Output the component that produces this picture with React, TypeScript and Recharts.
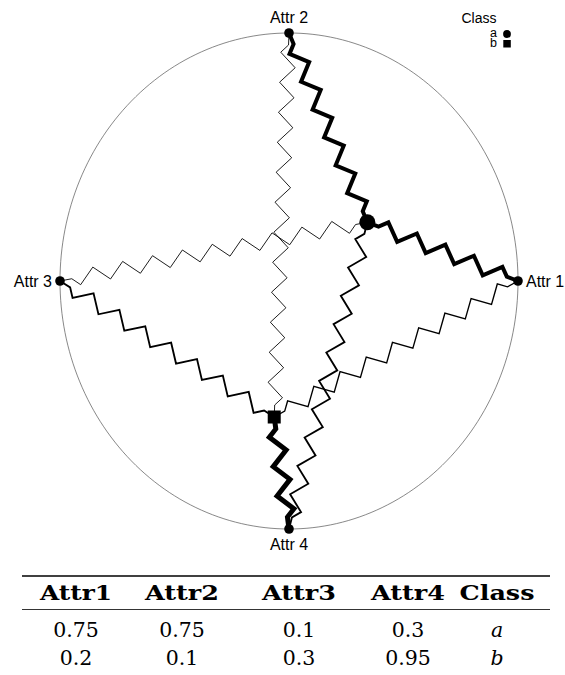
import React from 'react';
import { ScatterChart, Scatter, XAxis, YAxis } from 'recharts';

// ---------- data ----------
const attributes = ['Attr 1', 'Attr 2', 'Attr 3', 'Attr 4'];
const anchorAnglesDeg = [0, 90, 180, 270];
const labelSides = ['right', 'top', 'left', 'bottom'];
const tableHeaders = ['Attr1', 'Attr2', 'Attr3', 'Attr4', 'Class'];
const classLabels = ['a', 'b'];
const classAValues = [0.75, 0.75, 0.1, 0.3];
const classBValues = [0.2, 0.1, 0.3, 0.95];

// ---------- layout ----------
const CHART_W = 565;
const CHART_H = 560;
const MARGIN = { top: 33, right: 47, bottom: 31, left: 60 };
const SX = (CHART_W - MARGIN.left - MARGIN.right) / 2;
const SY = (CHART_H - MARGIN.top - MARGIN.bottom) / 2;
const SPRING_STEP = 15;
const SPRING_AMP = 7.5;
const SPRING_LEAD = 12;
const SANS = 'Liberation Sans, Arial, sans-serif';
const SERIF = 'DejaVu Serif, serif';

const r6 = (v: number) => Math.round(v * 1e6) / 1e6;
const clamp1 = (v: number) => Math.max(-1, Math.min(1, v));

const anchors = attributes.map((name, i) => {
  const a = (anchorAnglesDeg[i] * Math.PI) / 180;
  return { name, side: labelSides[i], x: r6(Math.cos(a)), y: r6(Math.sin(a)) };
});

const radviz = (vals: number[]) => {
  const s = vals.reduce((p, c) => p + c, 0);
  return {
    x: vals.reduce((p, v, i) => p + v * anchors[i].x, 0) / s,
    y: vals.reduce((p, v, i) => p + v * anchors[i].y, 0) / s,
  };
};

const pointA = radviz(classAValues);
const pointB = radviz(classBValues);

// ellipse (unit circle in data space)
const circleData = Array.from({ length: 241 }, (_, i) => {
  const t = (i / 240) * 2 * Math.PI;
  return { x: clamp1(Math.cos(t)), y: clamp1(Math.sin(t)) };
});

// zigzag spring between an anchor and a point (offsets in screen pixels)
const springPoints = (from: { x: number; y: number }, to: { x: number; y: number }) => {
  const ax = from.x * SX, ay = -from.y * SY;
  const px = to.x * SX, py = -to.y * SY;
  const dx = px - ax, dy = py - ay;
  const L = Math.hypot(dx, dy);
  const ux = dx / L, uy = dy / L;
  const nx = -uy, ny = ux;
  const inner = L - 2 * SPRING_LEAD;
  const n = Math.max(2, Math.round(inner / SPRING_STEP));
  const s = inner / n;
  const pts: [number, number][] = [[ax, ay], [ax + ux * SPRING_LEAD, ay + uy * SPRING_LEAD]];
  for (let i = 0; i < n; i++) {
    const t = SPRING_LEAD + (i + 0.5) * s;
    const sg = i % 2 === 0 ? 1 : -1;
    pts.push([ax + ux * t + nx * SPRING_AMP * sg, ay + uy * t + ny * SPRING_AMP * sg]);
  }
  pts.push([px - ux * SPRING_LEAD, py - uy * SPRING_LEAD], [px, py]);
  return pts.map(([X, Y]) => ({ x: clamp1(X / SX), y: clamp1(-Y / SY) }));
};

const widthFor = (v: number) => 0.4 + 4.8 * v;

const springs = [
  ...classAValues.map((v, i) => ({ key: `a${i}`, w: widthFor(v), data: springPoints(anchors[i], pointA) })),
  ...classBValues.map((v, i) => ({ key: `b${i}`, w: widthFor(v), data: springPoints(anchors[i], pointB) })),
];

const Empty = () => <g />;

const AnchorShape = (props: any) => {
  const { cx, cy, payload } = props;
  let tx = cx, ty = cy + 5.7, ta: any = 'middle';
  if (payload.side === 'right') { tx = cx + 8; ta = 'start'; }
  if (payload.side === 'left') { tx = cx - 8; ta = 'end'; }
  if (payload.side === 'top') { ty = cy - 10; }
  if (payload.side === 'bottom') { ty = cy + 21; }
  return (
    <g>
      <circle cx={cx} cy={cy} r={4.8} fill="#000" />
      <text x={tx} y={ty} textAnchor={ta} fontFamily={SANS} fontSize={16} fill="#000">{payload.name}</text>
    </g>
  );
};

const CircleShape = (props: any) => <circle cx={props.cx} cy={props.cy} r={8} fill="#000" />;
const SquareShape = (props: any) => <rect x={props.cx - 6.5} y={props.cy - 6.5} width={13} height={13} fill="#000" />;

const tableRows = [
  [...classAValues.map(String), classLabels[0]],
  [...classBValues.map(String), classLabels[1]],
];
const colCenters = [76, 182, 299, 408, 497];
const headerWidths = [72, 74, 74, 74, 75];

export default function App() {
  return (
    <div style={{ position: 'absolute', left: 0, top: 0, width: 565, height: 675, background: '#fff' }}>
      <ScatterChart width={CHART_W} height={CHART_H} margin={MARGIN}>
        <XAxis type="number" dataKey="x" domain={[-1, 1]} hide />
        <YAxis type="number" dataKey="y" domain={[-1, 1]} hide />
        <Scatter data={circleData} line={{ stroke: '#555', strokeWidth: 0.7 }} shape={Empty} isAnimationActive={false} />
        {springs.map((s) => (
          <Scatter
            key={s.key}
            data={s.data}
            line={{ stroke: '#000', strokeWidth: s.w, strokeLinejoin: 'miter' }}
            shape={Empty}
            isAnimationActive={false}
          />
        ))}
        <Scatter data={anchors} shape={AnchorShape} isAnimationActive={false} />
        <Scatter data={[pointA]} shape={CircleShape} isAnimationActive={false} />
        <Scatter data={[pointB]} shape={SquareShape} isAnimationActive={false} />
      </ScatterChart>
      <svg width={565} height={675} style={{ position: 'absolute', left: 0, top: 0, pointerEvents: 'none' }}>
        {/* legend */}
        <text x={479} y={22.7} textAnchor="middle" fontFamily={SANS} fontSize={14} fill="#000">Class</text>
        <text x={497} y={36.8} textAnchor="end" fontFamily={SANS} fontSize={12.5} fill="#000">{classLabels[0]}</text>
        <circle cx={507} cy={34} r={3.9} fill="#000" />
        <text x={497} y={47} textAnchor="end" fontFamily={SANS} fontSize={12.5} fill="#000">{classLabels[1]}</text>
        <rect x={503.3} y={40} width={7.5} height={7.5} fill="#000" />
        {/* table */}
        <line x1={22} x2={550} y1={576} y2={576} stroke="#000" strokeWidth={1.3} />
        {tableHeaders.map((h, i) => (
          <text key={h} x={colCenters[i]} y={600} textAnchor="middle" fontFamily={SERIF} fontWeight="bold" fontSize={19.6}
            textLength={headerWidths[i]} lengthAdjust="spacingAndGlyphs" fill="#000">{h}</text>
        ))}
        <line x1={22} x2={550} y1={609.5} y2={609.5} stroke="#000" strokeWidth={0.8} />
        {tableRows.map((row, r) => row.map((c, i) => (
          <text key={`${r}-${i}`} x={colCenters[i]} y={636.7 + r * 28.3} textAnchor="middle" fontFamily={SERIF}
            fontStyle={i === 4 ? 'italic' : 'normal'} fontSize={20.5} fill="#000">{c}</text>
        )))}
      </svg>
    </div>
  );
}
